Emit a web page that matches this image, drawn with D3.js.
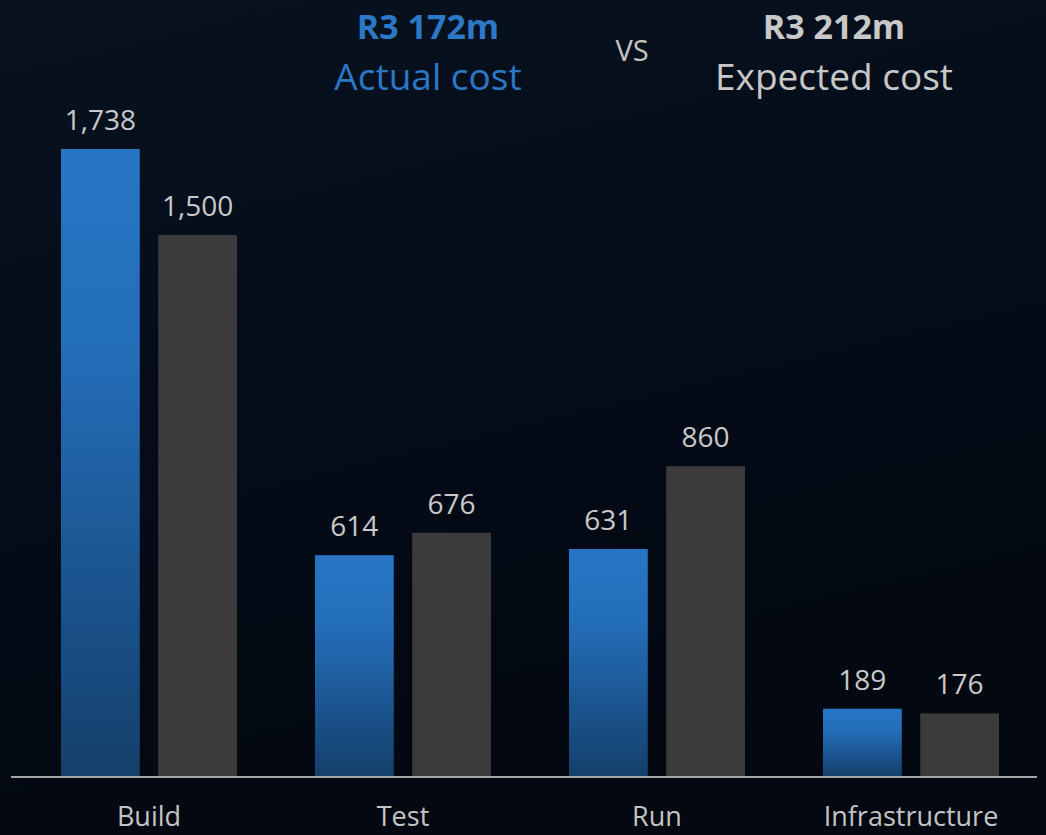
<!DOCTYPE html>
<html>
<head>
<meta charset="utf-8">
<script src="https://cdn.jsdelivr.net/npm/d3@7"></script>
<style>
  html, body { margin: 0; padding: 0; background: #050b16; }
  svg { display: block; font-family: "Open Sans", sans-serif; }
</style>
</head>
<body>
<script>
// data
var categories = ["Build", "Test", "Run", "Infrastructure"]
var series = ["Actual", "Expected"]
var actual = [1738, 614, 631, 189]
var expected = [1500, 676, 860, 176]

var W = 1046, H = 835
var baseline = 777

var svg = d3.select("body").append("svg")
	.attr("width", W)
	.attr("height", H)

var defs = svg.append("defs")

var bg = defs.append("linearGradient").attr("id", "bg")
	.attr("x1", 0).attr("y1", 0).attr("x2", 0.3).attr("y2", 1)
bg.append("stop").attr("offset", 0).attr("stop-color", "#08121f")
bg.append("stop").attr("offset", 0.5).attr("stop-color", "#050c18")
bg.append("stop").attr("offset", 1).attr("stop-color", "#030811")

var blue = defs.append("linearGradient").attr("id", "blueBar")
	.attr("x1", 0).attr("y1", 0).attr("x2", 0).attr("y2", 1)
blue.append("stop").attr("offset", 0).attr("stop-color", "#2775c4")
blue.append("stop").attr("offset", 0.3).attr("stop-color", "#246fbb")
blue.append("stop").attr("offset", 1).attr("stop-color", "#143f6b")

svg.append("rect").attr("width", W).attr("height", H).attr("fill", "url(#bg)")

// scales
var x = d3.scaleBand()
	.domain(categories)
	.range([22, 1038])
	.paddingInner(0.307)
	.paddingOuter(0.1535)

var x1 = d3.scaleBand()
	.domain(series)
	.range([0, x.bandwidth()])
	.paddingInner(0.19)

var y = d3.scaleLinear()
	.domain([0, d3.max(actual)])
	.range([baseline, 149])

var color = { Actual: "url(#blueBar)", Expected: "#3b3b3b" }

var rows = categories.map(function(c, i) {
	return { cat: c, values: [
		{ key: "Actual", value: actual[i] },
		{ key: "Expected", value: expected[i] }
	] }
})

var groups = svg.selectAll("g.cat")
	.data(rows)
	.enter().append("g")
	.attr("class", "cat")
	.attr("transform", function(d) { return "translate(" + x(d.cat) + ",0)" })

groups.selectAll("rect")
	.data(function(d) { return d.values })
	.enter().append("rect")
	.attr("x", function(d) { return x1(d.key) })
	.attr("y", function(d) { return y(d.value) })
	.attr("width", x1.bandwidth())
	.attr("height", function(d) { return baseline - y(d.value) })
	.attr("fill", function(d) { return color[d.key] })

groups.selectAll("text")
	.data(function(d) { return d.values })
	.enter().append("text")
	.attr("x", function(d) { return x1(d.key) + x1.bandwidth() / 2 })
	.attr("y", function(d) { return y(d.value) - 19 })
	.attr("text-anchor", "middle")
	.attr("font-size", 28)
	.attr("fill", "#c9c9c9")
	.text(function(d) { return d3.format(",")(d.value) })

// axis
svg.append("line")
	.attr("x1", 11).attr("x2", 1037)
	.attr("y1", baseline).attr("y2", baseline)
	.attr("stroke", "#a6a6a6")
	.attr("stroke-width", 2)

var axis = svg.append("g")
	.attr("transform", "translate(0," + baseline + ")")
	.call(d3.axisBottom(x).tickSize(0).tickPadding(30))
axis.select(".domain").remove()
axis.selectAll("text")
	.attr("font-size", 27)
	.attr("font-family", "Open Sans, sans-serif")
	.attr("fill", "#c4c4c4")

// title
var title = svg.append("g").attr("text-anchor", "middle")
title.append("text").attr("x", 428).attr("y", 39)
	.attr("font-size", 34).attr("font-weight", "bold").attr("fill", "#2a78c6")
	.text("R3 172m")
title.append("text").attr("x", 428).attr("y", 90)
	.attr("font-size", 37).attr("fill", "#2a78c6")
	.text("Actual cost")
title.append("text").attr("x", 632).attr("y", 61)
	.attr("font-size", 29).attr("fill", "#c4c4c4")
	.text("VS")
title.append("text").attr("x", 834).attr("y", 39)
	.attr("font-size", 34).attr("font-weight", "bold").attr("fill", "#c8c8c8")
	.text("R3 212m")
title.append("text").attr("x", 834).attr("y", 90)
	.attr("font-size", 37).attr("fill", "#c8c8c8")
	.text("Expected cost")
</script>
</body>
</html>
